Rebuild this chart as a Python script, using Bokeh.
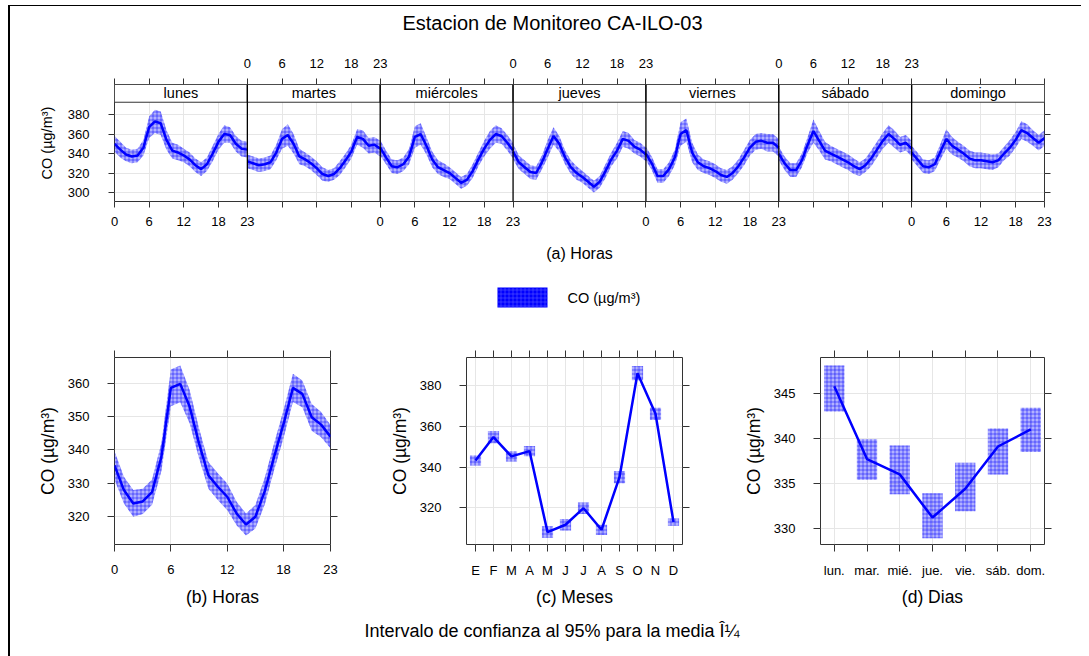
from bokeh.plotting import figure
from bokeh.layouts import column, row
from bokeh.models import FixedTicker, LinearAxis, Range1d
from bokeh.core.properties import value
from bokeh.embed import file_html
from bokeh.resources import INLINE

FONT = "Liberation Sans"
BLUE = "#0000ff"
GRID = "#e6e6e6"
FRAME = "#333333"

# ---------------- data ----------------
days = ["lunes", "martes", "miércoles", "jueves", "viernes", "sábado", "domingo"]
hours = list(range(24))

co_lunes = [350, 344, 339, 337, 338, 346, 367, 373, 371, 354, 343, 341, 338, 334, 328, 324, 329, 340, 352, 360, 359, 350, 345, 344]
co_martes = [332, 330, 328, 329, 331, 341, 355, 359, 350, 337, 334, 330, 325, 319, 317, 319, 325, 333, 342, 357, 355, 348, 349, 345]
co_miercoles = [346, 336, 327, 326, 329, 337, 357, 360, 348, 334, 326, 323, 320, 315, 310, 313, 322, 334, 345, 354, 360, 358, 351, 343]
co_jueves = [342, 331, 326, 321, 320, 331, 345, 358, 350, 336, 326, 320, 316, 311, 306, 311, 322, 334, 343, 355, 353, 347, 344, 339]
co_viernes = [340, 330, 317, 317, 324, 336, 360, 364, 341, 331, 327, 325, 322, 318, 316, 320, 327, 336, 346, 352, 353, 351, 351, 346]
co_sabado = [340, 330, 323, 323, 333, 349, 363, 353, 343, 340, 337, 334, 331, 327, 324, 328, 335, 344, 353, 360, 355, 349, 351, 345]
co_domingo = [341, 334, 327, 326, 329, 342, 355, 348, 344, 340, 335, 333, 333, 332, 331, 333, 340, 346, 354, 364, 361, 356, 351, 356]

ci_lunes = [8, 8, 7, 7, 7, 8, 11, 12, 12, 10, 8, 8, 7, 7, 7, 7, 7, 8, 8, 9, 8, 8, 8, 8]
ci_martes = [7, 7, 7, 7, 7, 8, 10, 11, 10, 8, 7, 7, 7, 7, 6, 6, 7, 7, 7, 8, 9, 8, 8, 8]
ci_miercoles = [8, 7, 7, 7, 7, 8, 11, 11, 9, 8, 7, 7, 6, 6, 6, 6, 7, 7, 8, 9, 9, 8, 8, 8]
ci_jueves = [8, 7, 7, 7, 7, 7, 9, 9, 8, 7, 7, 7, 6, 6, 6, 6, 7, 7, 8, 8, 8, 7, 7, 7]
ci_viernes = [7, 7, 7, 7, 7, 8, 12, 12, 10, 8, 7, 7, 7, 7, 7, 7, 7, 8, 8, 8, 8, 9, 9, 9]
ci_sabado = [7, 7, 7, 7, 7, 8, 12, 10, 9, 8, 8, 8, 8, 8, 7, 7, 8, 8, 8, 9, 9, 8, 8, 8]
ci_domingo = [7, 7, 7, 7, 7, 8, 10, 9, 8, 8, 8, 8, 8, 8, 8, 7, 7, 8, 8, 9, 9, 8, 8, 8]

hour_mean = [335.4, 328, 324, 324.6, 327.4, 338, 358.6, 359.8, 353, 342, 332.4, 329, 326, 321, 317.7, 320, 327.7, 338, 347.8, 358.6, 356.8, 349.8, 347.6, 344]
hour_ci = [4.2, 4, 4, 3.8, 3.8, 4.2, 5.5, 5.5, 5, 4.5, 4, 4, 4, 3.5, 3.3, 3.5, 4, 4, 4.2, 4.2, 4, 4, 3.8, 3.5]

months = ["E", "F", "M", "A", "M", "J", "J", "A", "S", "O", "N", "D"]
month_mean = [343.2, 354.7, 345.2, 347.8, 308.1, 311.7, 319.8, 309.2, 335.0, 386.0, 366.1, 313.0]
month_ci = [2.5, 3, 2.5, 2.5, 2.8, 2.8, 2.8, 2.5, 3, 3.5, 3, 1.8]

day_abbr = ["lun.", "mar.", "mié.", "jue.", "vie.", "sáb.", "dom."]
day_mean = [345.8, 337.7, 336.0, 331.2, 334.4, 339.1, 341.0]
day_lower = [343.0, 335.4, 333.8, 328.9, 331.9, 336.0, 338.5]
day_upper = [348.1, 339.9, 339.2, 333.9, 337.3, 341.1, 343.4]

TITLE = "Estacion de Monitoreo CA-ILO-03"
YLAB = "CO (µg/m³)"
FOOTER = "Intervalo de confianza al 95% para la media \u00ce\u00bc"

day_series = [co_lunes, co_martes, co_miercoles, co_jueves, co_viernes, co_sabado, co_domingo]
day_cis = [ci_lunes, ci_martes, ci_miercoles, ci_jueves, ci_viernes, ci_sabado, ci_domingo]

W = 1071
LB, RB = 104, 37          # borders of the top panel (frames of column children are aligned)
BAND = dict(fill_color=BLUE, fill_alpha=0.3, hatch_pattern="+", hatch_color=BLUE,
            hatch_alpha=0.55, hatch_scale=4, hatch_weight=0.9)


def style_axis(ax, size, tick_out, standoff, lab_size=None, lab_standoff=None):
    ax.axis_line_color = None
    ax.major_tick_line_color = FRAME
    ax.major_tick_out = tick_out
    ax.major_tick_in = 0
    ax.minor_tick_line_color = None
    ax.major_label_text_font = FONT
    ax.major_label_text_font_size = size
    ax.major_label_text_color = "black"
    ax.major_label_standoff = standoff
    ax.axis_label_text_font = FONT
    ax.axis_label_text_font_style = "normal"
    ax.axis_label_text_color = "black"
    if lab_size:
        ax.axis_label_text_font_size = lab_size
    if lab_standoff is not None:
        ax.axis_label_standoff = lab_standoff


def blank_fig(height):
    # x data units == pixels of the layout's content box
    f = figure(width=W, height=height, x_range=Range1d(LB, W - RB), y_range=Range1d(0, height),
               output_backend="svg", toolbar_location=None, x_axis_type=None, y_axis_type=None,
               min_border_left=LB, min_border_right=RB, min_border_top=0, min_border_bottom=0)
    f.outline_line_color = None
    f.grid.visible = False
    return f


# ---------------- title ----------------
tf = blank_fig(31)
tf.text(x=[542], y=[15], text=[TITLE], text_font=value(FONT), text_font_size="20px",
        text_align="center", text_baseline="middle", text_color="black")

# ---------------- top panel (a) ----------------
NH = 23
nd = len(days)
y_lo, y_hi, strip_top = 290.8, 392.6, 410.8
pt = figure(width=W, height=234, x_range=Range1d(0, NH * nd), y_range=Range1d(y_lo, strip_top),
            output_backend="svg", toolbar_location=None,
            min_border_left=LB, min_border_right=RB, min_border_top=47, min_border_bottom=70)
pt.outline_line_color = FRAME

hour_ticks = [0, 6, 12, 18, 23]
tick_pos = sorted({NH * d + h for d in range(nd) for h in hour_ticks})
bottom_lab = {t: "" for t in tick_pos}
top_lab = {t: "" for t in tick_pos}
for d in range(nd):
    target = bottom_lab if d % 2 == 0 else top_lab
    for h in hour_ticks:
        target[NH * d + h] = str(h)

yt_a = [300, 320, 340, 360, 380]
pt.xaxis.ticker = FixedTicker(ticks=tick_pos, minor_ticks=[])
pt.xaxis.major_label_overrides = bottom_lab
pt.xaxis.axis_label = "(a) Horas"
style_axis(pt.xaxis[0], "13px", 6, 9, "16px", 16)
pt.yaxis.ticker = FixedTicker(ticks=yt_a, minor_ticks=[])
pt.yaxis.axis_label = YLAB
style_axis(pt.yaxis[0], "13px", 6, 19, "14.5px", 10)

ax_top = LinearAxis(ticker=FixedTicker(ticks=tick_pos, minor_ticks=[]), major_label_overrides=top_lab)
style_axis(ax_top, "13px", 6, 11)
pt.add_layout(ax_top, "above")
ax_r = LinearAxis(ticker=FixedTicker(ticks=yt_a, minor_ticks=[]), major_label_overrides={t: "" for t in yt_a})
style_axis(ax_r, "13px", 6, 2)
pt.add_layout(ax_r, "right")

pt.xgrid.ticker = FixedTicker(ticks=[NH * d + h for d in range(nd) for h in (6, 12, 18)], minor_ticks=[])
pt.ygrid.ticker = FixedTicker(ticks=yt_a, minor_ticks=[])
pt.grid.grid_line_color = GRID

for d in range(nd):
    mean = day_series[d]
    ci = day_cis[d]
    x = [NH * d + h for h in hours]
    pt.varea(x=x, y1=[m - c for m, c in zip(mean, ci)], y2=[m + c for m, c in zip(mean, ci)], **BAND)
    pt.line(x, mean, line_color=BLUE, line_width=2.5)

pt.quad(left=[NH * d for d in range(nd)], right=[NH * (d + 1) for d in range(nd)],
        bottom=y_hi, top=strip_top, fill_color="white", line_color=FRAME, line_width=1)
pt.text(x=[NH * d + NH / 2 for d in range(nd)], y=(y_hi + strip_top) / 2, text=days,
        text_font=value(FONT), text_font_size="14.5px", text_align="center",
        text_baseline="middle", text_color="black")
pt.segment(x0=[NH * d for d in range(1, nd)], y0=y_lo, x1=[NH * d for d in range(1, nd)], y1=strip_top,
           line_color="black", line_width=1.3)

# ---------------- legend (key) ----------------
lf = blank_fig(48)
lf.quad(left=[487], right=[537], bottom=[12], top=[32], fill_color=BLUE, fill_alpha=1.0,
        hatch_pattern="+", hatch_color="#6a6aff", hatch_alpha=0.6, hatch_scale=4,
        hatch_weight=0.8, line_color=None)
lf.text(x=[557], y=[22], text=[YLAB], text_font=value(FONT), text_font_size="14.5px",
        text_align="left", text_baseline="middle", text_color="black")


# ---------------- lower panels ----------------
def lower_fig(width, left, right, xr, yr, xticks, xover, yticks, xlabel, x_std, xl_std):
    p = figure(width=width, height=290, x_range=Range1d(*xr), y_range=Range1d(*yr),
               output_backend="svg", toolbar_location=None,
               min_border_left=left, min_border_right=right, min_border_top=38, min_border_bottom=65)
    p.outline_line_color = FRAME
    p.xaxis.ticker = FixedTicker(ticks=xticks, minor_ticks=[])
    if xover:
        p.xaxis.major_label_overrides = xover
    p.xaxis.axis_label = xlabel
    style_axis(p.xaxis[0], "13px", 7, x_std, "17.5px", xl_std)
    p.yaxis.ticker = FixedTicker(ticks=yticks, minor_ticks=[])
    p.yaxis.axis_label = YLAB
    style_axis(p.yaxis[0], "13px", 7, 18, "17.5px", 7)
    at = LinearAxis(ticker=FixedTicker(ticks=xticks, minor_ticks=[]),
                    major_label_overrides={t: "" for t in xticks})
    style_axis(at, "13px", 7, 2)
    p.add_layout(at, "above")
    ar = LinearAxis(ticker=FixedTicker(ticks=yticks, minor_ticks=[]),
                    major_label_overrides={t: "" for t in yticks})
    style_axis(ar, "13px", 7, 2)
    p.add_layout(ar, "right")
    p.xgrid.ticker = FixedTicker(ticks=xticks, minor_ticks=[])
    p.ygrid.ticker = FixedTicker(ticks=yticks, minor_ticks=[])
    p.grid.grid_line_color = GRID
    return p


pb = lower_fig(370, 104, 50, (0, 23), (311.7, 367.7), [0, 6, 12, 18, 23], None,
               [320, 330, 340, 350, 360], "(b) Horas", 13, 10)
pb.varea(x=hours, y1=[m - c for m, c in zip(hour_mean, hour_ci)],
         y2=[m + c for m, c in zip(hour_mean, hour_ci)], **BAND)
pb.line(hours, hour_mean, line_color=BLUE, line_width=2.5)

mx = list(range(1, len(months) + 1))
pc = lower_fig(360, 86, 58, (0.5, 12.5), (302.0, 393.7), mx, dict(zip(mx, months)),
               [320, 340, 360, 380], "(c) Meses", 11, 6)
pc.vbar(x=mx, width=0.62, bottom=[m - c for m, c in zip(month_mean, month_ci)],
        top=[m + c for m, c in zip(month_mean, month_ci)], line_color=None, **BAND)
pc.line(mx, month_mean, line_color=BLUE, line_width=2.5)

dx = list(range(1, len(day_abbr) + 1))
pd_ = lower_fig(341, 77, 37, (0.58, 7.42), (328.2, 349.0), dx, dict(zip(dx, day_abbr)),
                [330, 335, 340, 345], "(d) Dias", 11, 6)
pd_.vbar(x=dx, width=0.62, bottom=day_lower, top=day_upper, line_color=None, **BAND)
pd_.line(dx, day_mean, line_color=BLUE, line_width=2.5)

# ---------------- footer ----------------
ff = blank_fig(47)
ff.text(x=[541.5], y=[26], text=[FOOTER], text_font=value(FONT), text_font_size="18px",
        text_align="center", text_baseline="middle", text_color="black")

root = column(tf, pt, lf, row(pb, pc, pd_), ff,
              styles={"border-left": "2px solid black", "border-top": "1px solid black",
                      "margin-left": "8px", "margin-top": "5px"})

open("out.html", "w").write(file_html(root, INLINE))
